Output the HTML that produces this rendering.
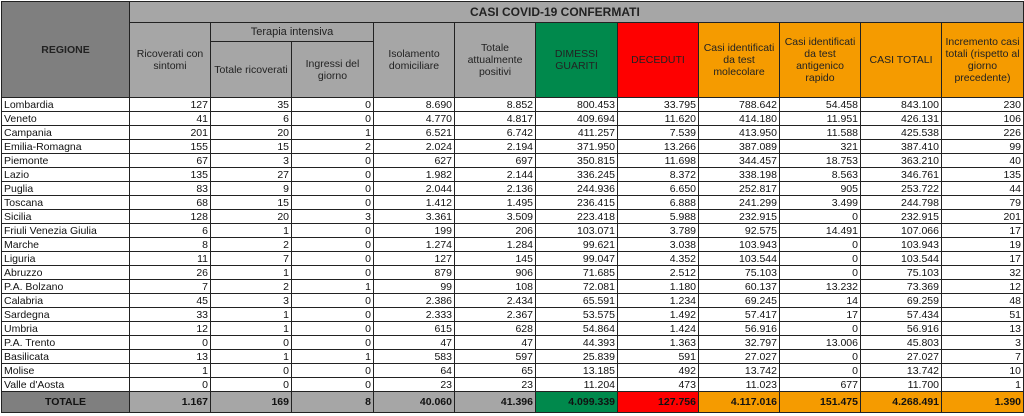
<!DOCTYPE html>
<html><head><meta charset="utf-8"><style>
body{margin:0;background:#fff;width:1024px;height:416px;overflow:hidden;font-family:"Liberation Sans",sans-serif;}
table{border-collapse:collapse;table-layout:fixed;position:absolute;left:1px;top:1px;}
td{border:1px solid #222;padding:0 2px;font-size:10.5px;color:#111;overflow:hidden;white-space:nowrap;line-height:12px;}
tr.d td{height:13px;text-align:right;background:#fff;}
tr.d td:first-child{text-align:left;}
.h td,td.h{background:#a6a6a6;text-align:center;white-space:normal;color:#222;}
.rg{background:#7f7f7f !important;font-weight:bold;}
.g{background:#00894c !important;}
.r{background:#fe0000 !important;}
.o{background:#f59b00 !important;}
tr.t td{height:20px;background:#a6a6a6;text-align:right;font-weight:bold;}
</style></head><body>
<table>
<colgroup><col style="width:128px"><col style="width:81px"><col style="width:81px"><col style="width:82px"><col style="width:81px"><col style="width:81px"><col style="width:82px"><col style="width:81px"><col style="width:81px"><col style="width:81px"><col style="width:81px"><col style="width:82px"></colgroup>
<tr class="h"><td rowspan="3" class="rg">REGIONE</td><td colspan="11" style="height:20px;font-weight:bold;font-size:12px;text-align:left;padding-left:340px">CASI COVID-19 CONFERMATI</td></tr>
<tr class="h"><td rowspan="2">Ricoverati con sintomi</td><td colspan="2" style="height:18px;font-size:11px">Terapia intensiva</td><td rowspan="2">Isolamento domiciliare</td><td rowspan="2">Totale attualmente positivi</td><td rowspan="2" class="g">DIMESSI GUARITI</td><td rowspan="2" class="r">DECEDUTI</td><td rowspan="2" class="o">Casi identificati da test molecolare</td><td rowspan="2" class="o">Casi identificati da test antigenico rapido</td><td rowspan="2" class="o">CASI TOTALI</td><td rowspan="2" class="o">Incremento casi totali (rispetto al giorno precedente)</td></tr>
<tr class="h"><td style="height:55px">Totale ricoverati</td><td>Ingressi del giorno</td></tr>
<tr class="d"><td>Lombardia</td><td>127</td><td>35</td><td>0</td><td>8.690</td><td>8.852</td><td>800.453</td><td>33.795</td><td>788.642</td><td>54.458</td><td>843.100</td><td>230</td></tr>
<tr class="d"><td>Veneto</td><td>41</td><td>6</td><td>0</td><td>4.770</td><td>4.817</td><td>409.694</td><td>11.620</td><td>414.180</td><td>11.951</td><td>426.131</td><td>106</td></tr>
<tr class="d"><td>Campania</td><td>201</td><td>20</td><td>1</td><td>6.521</td><td>6.742</td><td>411.257</td><td>7.539</td><td>413.950</td><td>11.588</td><td>425.538</td><td>226</td></tr>
<tr class="d"><td>Emilia-Romagna</td><td>155</td><td>15</td><td>2</td><td>2.024</td><td>2.194</td><td>371.950</td><td>13.266</td><td>387.089</td><td>321</td><td>387.410</td><td>99</td></tr>
<tr class="d"><td>Piemonte</td><td>67</td><td>3</td><td>0</td><td>627</td><td>697</td><td>350.815</td><td>11.698</td><td>344.457</td><td>18.753</td><td>363.210</td><td>40</td></tr>
<tr class="d"><td>Lazio</td><td>135</td><td>27</td><td>0</td><td>1.982</td><td>2.144</td><td>336.245</td><td>8.372</td><td>338.198</td><td>8.563</td><td>346.761</td><td>135</td></tr>
<tr class="d"><td>Puglia</td><td>83</td><td>9</td><td>0</td><td>2.044</td><td>2.136</td><td>244.936</td><td>6.650</td><td>252.817</td><td>905</td><td>253.722</td><td>44</td></tr>
<tr class="d"><td>Toscana</td><td>68</td><td>15</td><td>0</td><td>1.412</td><td>1.495</td><td>236.415</td><td>6.888</td><td>241.299</td><td>3.499</td><td>244.798</td><td>79</td></tr>
<tr class="d"><td>Sicilia</td><td>128</td><td>20</td><td>3</td><td>3.361</td><td>3.509</td><td>223.418</td><td>5.988</td><td>232.915</td><td>0</td><td>232.915</td><td>201</td></tr>
<tr class="d"><td>Friuli Venezia Giulia</td><td>6</td><td>1</td><td>0</td><td>199</td><td>206</td><td>103.071</td><td>3.789</td><td>92.575</td><td>14.491</td><td>107.066</td><td>17</td></tr>
<tr class="d"><td>Marche</td><td>8</td><td>2</td><td>0</td><td>1.274</td><td>1.284</td><td>99.621</td><td>3.038</td><td>103.943</td><td>0</td><td>103.943</td><td>19</td></tr>
<tr class="d"><td>Liguria</td><td>11</td><td>7</td><td>0</td><td>127</td><td>145</td><td>99.047</td><td>4.352</td><td>103.544</td><td>0</td><td>103.544</td><td>17</td></tr>
<tr class="d"><td>Abruzzo</td><td>26</td><td>1</td><td>0</td><td>879</td><td>906</td><td>71.685</td><td>2.512</td><td>75.103</td><td>0</td><td>75.103</td><td>32</td></tr>
<tr class="d"><td>P.A. Bolzano</td><td>7</td><td>2</td><td>1</td><td>99</td><td>108</td><td>72.081</td><td>1.180</td><td>60.137</td><td>13.232</td><td>73.369</td><td>12</td></tr>
<tr class="d"><td>Calabria</td><td>45</td><td>3</td><td>0</td><td>2.386</td><td>2.434</td><td>65.591</td><td>1.234</td><td>69.245</td><td>14</td><td>69.259</td><td>48</td></tr>
<tr class="d"><td>Sardegna</td><td>33</td><td>1</td><td>0</td><td>2.333</td><td>2.367</td><td>53.575</td><td>1.492</td><td>57.417</td><td>17</td><td>57.434</td><td>51</td></tr>
<tr class="d"><td>Umbria</td><td>12</td><td>1</td><td>0</td><td>615</td><td>628</td><td>54.864</td><td>1.424</td><td>56.916</td><td>0</td><td>56.916</td><td>13</td></tr>
<tr class="d"><td>P.A. Trento</td><td>0</td><td>0</td><td>0</td><td>47</td><td>47</td><td>44.393</td><td>1.363</td><td>32.797</td><td>13.006</td><td>45.803</td><td>3</td></tr>
<tr class="d"><td>Basilicata</td><td>13</td><td>1</td><td>1</td><td>583</td><td>597</td><td>25.839</td><td>591</td><td>27.027</td><td>0</td><td>27.027</td><td>7</td></tr>
<tr class="d"><td>Molise</td><td>1</td><td>0</td><td>0</td><td>64</td><td>65</td><td>13.185</td><td>492</td><td>13.742</td><td>0</td><td>13.742</td><td>10</td></tr>
<tr class="d"><td>Valle d'Aosta</td><td>0</td><td>0</td><td>0</td><td>23</td><td>23</td><td>11.204</td><td>473</td><td>11.023</td><td>677</td><td>11.700</td><td>1</td></tr>
<tr class="t"><td class="rg" style="text-align:center">TOTALE</td><td>1.167</td><td>169</td><td>8</td><td>40.060</td><td>41.396</td><td class="g">4.099.339</td><td class="r">127.756</td><td class="o">4.117.016</td><td class="o">151.475</td><td class="o">4.268.491</td><td class="o">1.390</td></tr>
</table>
</body></html>
